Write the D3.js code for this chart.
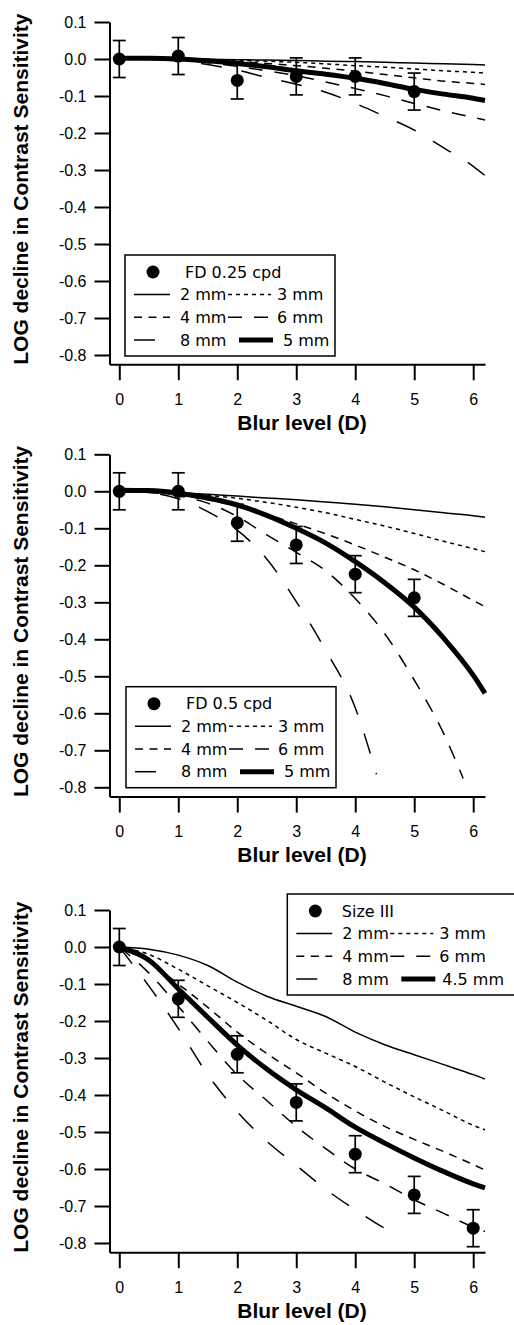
<!DOCTYPE html>
<html>
<head>
<meta charset="utf-8">
<script src="https://cdn.jsdelivr.net/npm/d3@7"></script>
<style>
  body { margin: 0; background: #fff; }
  svg { display: block; }
</style>
</head>
<body>
<svg id="chart" width="514" height="1325"></svg>
<script>
// ---- data ----
const blurGrid = [0, 0.5, 1, 1.5, 2, 2.5, 3, 3.5, 4, 4.5, 5, 5.5, 6, 6.2];
const xTickValues = [0, 1, 2, 3, 4, 5, 6];
const yTickValues = [0.1, 0, -0.1, -0.2, -0.3, -0.4, -0.5, -0.6, -0.7, -0.8];

// FD 0.25 cpd
const fd025Blur = [0, 1, 2, 3, 4, 5];
const fd025Measured = [0, 0.008, -0.058, -0.047, -0.047, -0.088];
const fd025Error = [0.05, 0.05, 0.05, 0.05, 0.05, 0.05];
const fd025_2mm = [0, 0, 0, -0.001, -0.002, -0.003, -0.004, -0.006, -0.007, -0.009, -0.011, -0.013, -0.015, -0.016];
const fd025_3mm = [0, 0, -0.001, -0.002, -0.004, -0.006, -0.009, -0.013, -0.018, -0.022, -0.027, -0.032, -0.036, -0.038];
const fd025_4mm = [0, 0, -0.001, -0.003, -0.007, -0.012, -0.018, -0.025, -0.033, -0.042, -0.051, -0.06, -0.066, -0.069];
const fd025_6mm = [0, 0, -0.003, -0.01, -0.02, -0.032, -0.045, -0.062, -0.08, -0.099, -0.12, -0.14, -0.158, -0.165];
const fd025_8mm = [0, -0.001, -0.005, -0.015, -0.03, -0.05, -0.068, -0.09, -0.12, -0.155, -0.192, -0.24, -0.29, -0.315];
const fd025_5mm = [0.002, 0.002, 0, -0.005, -0.012, -0.021, -0.032, -0.041, -0.052, -0.066, -0.082, -0.095, -0.106, -0.112];

// FD 0.5 cpd
const fd05Blur = [0, 1, 2, 3, 4, 5];
const fd05Measured = [0, 0, -0.085, -0.145, -0.224, -0.288];
const fd05Error = [0.05, 0.05, 0.05, 0.05, 0.05, 0.05];
const fd05_2mm = [0, -0.001, -0.004, -0.008, -0.013, -0.018, -0.023, -0.029, -0.035, -0.042, -0.05, -0.058, -0.066, -0.07];
const fd05_3mm = [0, -0.001, -0.005, -0.011, -0.019, -0.03, -0.043, -0.058, -0.076, -0.094, -0.114, -0.135, -0.155, -0.163];
const fd05_4mm = [0, -0.002, -0.01, -0.023, -0.04, -0.062, -0.088, -0.115, -0.145, -0.178, -0.212, -0.252, -0.295, -0.312];
const fd05_6mmBlur = [0, 0.5, 1, 1.5, 2, 2.5, 3, 3.5, 4, 4.5, 5, 5.5, 5.83];
const fd05_6mm = [0, -0.003, -0.012, -0.032, -0.068, -0.118, -0.165, -0.215, -0.29, -0.385, -0.51, -0.655, -0.776];
const fd05_8mmBlur = [0, 0.5, 1, 1.5, 2, 2.5, 3, 3.5, 4, 4.36];
const fd05_8mm = [0, -0.004, -0.02, -0.055, -0.105, -0.183, -0.298, -0.43, -0.585, -0.765];
const fd05_5mm = [0.003, 0.002, -0.005, -0.018, -0.037, -0.065, -0.1, -0.14, -0.19, -0.247, -0.313, -0.397, -0.497, -0.546];

// Size III
const size3Blur = [0, 1, 2, 3, 4, 5, 6];
const size3Measured = [0, -0.14, -0.29, -0.42, -0.56, -0.67, -0.76];
const size3Error = [0.05, 0.05, 0.05, 0.05, 0.05, 0.05, 0.05];
const size3_2mm = [0, -0.006, -0.022, -0.05, -0.095, -0.133, -0.16, -0.188, -0.23, -0.264, -0.291, -0.318, -0.345, -0.357];
const size3_3mm = [0, -0.02, -0.06, -0.105, -0.15, -0.198, -0.25, -0.287, -0.323, -0.365, -0.405, -0.443, -0.482, -0.494];
const size3_4mm = [0, -0.04, -0.1, -0.163, -0.23, -0.288, -0.34, -0.395, -0.443, -0.485, -0.52, -0.553, -0.588, -0.603];
const size3_6mm = [0, -0.07, -0.16, -0.255, -0.345, -0.415, -0.485, -0.545, -0.6, -0.64, -0.683, -0.72, -0.757, -0.769];
const size3_8mmBlur = [0, 0.5, 1, 1.5, 2, 2.5, 3, 3.5, 4, 4.5, 4.75];
const size3_8mm = [0, -0.105, -0.22, -0.345, -0.445, -0.525, -0.59, -0.655, -0.71, -0.76, -0.78];
const size3_45mm = [0, -0.035, -0.113, -0.19, -0.265, -0.33, -0.386, -0.435, -0.487, -0.53, -0.57, -0.607, -0.64, -0.651];

// ---- line styles ----
const styles = {
    solid: { width: 1.5, dash: null },
    dotted: { width: 1.5, dash: "4,4" },
    dash: { width: 1.5, dash: "8,6.5" },
    longDash: { width: 1.5, dash: "14,12" },
    longerDash: { width: 1.5, dash: "21,20" },
    thick: { width: 5, dash: null }
};

function zip(xs, ys) {
    return xs.map((v, i) => [v, ys[i]]);
}

const panels = [
    {
        top: 22, title: "FD 0.25 cpd",
        legend: { x: 125, dy: 233, w: 210, titleX: 60, lastX: 158 },
        thickLabel: "5 mm",
        blur: fd025Blur, measured: fd025Measured, error: fd025Error,
        curves: {
            "2 mm": zip(blurGrid, fd025_2mm), "3 mm": zip(blurGrid, fd025_3mm),
            "4 mm": zip(blurGrid, fd025_4mm), "6 mm": zip(blurGrid, fd025_6mm),
            "8 mm": zip(blurGrid, fd025_8mm), "thick": zip(blurGrid, fd025_5mm)
        }
    },
    {
        top: 454.3, title: "FD 0.5 cpd",
        legend: { x: 126, dy: 232.4, w: 210, titleX: 60, lastX: 158 },
        thickLabel: "5 mm",
        blur: fd05Blur, measured: fd05Measured, error: fd05Error,
        curves: {
            "2 mm": zip(blurGrid, fd05_2mm), "3 mm": zip(blurGrid, fd05_3mm),
            "4 mm": zip(blurGrid, fd05_4mm), "6 mm": zip(fd05_6mmBlur, fd05_6mm),
            "8 mm": zip(fd05_8mmBlur, fd05_8mm), "thick": zip(blurGrid, fd05_5mm)
        }
    },
    {
        top: 910, title: "Size III",
        legend: { x: 287.3, dy: -16, w: 232, titleX: 54.5, lastX: 155 },
        thickLabel: "4.5 mm",
        blur: size3Blur, measured: size3Measured, error: size3Error,
        curves: {
            "2 mm": zip(blurGrid, size3_2mm), "3 mm": zip(blurGrid, size3_3mm),
            "4 mm": zip(blurGrid, size3_4mm), "6 mm": zip(blurGrid, size3_6mm),
            "8 mm": zip(size3_8mmBlur, size3_8mm), "thick": zip(blurGrid, size3_45mm)
        }
    }
];

const curveStyle = {
    "2 mm": styles.solid, "3 mm": styles.dotted, "4 mm": styles.dash,
    "6 mm": styles.longDash, "8 mm": styles.longerDash, "thick": styles.thick
};

// ---- drawing ----
const svg = d3.select("#chart");
const plotLeft = 109.5, plotRight = 485, plotHeight = 342.25;
const tickFont = "'Liberation Sans', Arial, sans-serif";
const legendFont = "'DejaVu Sans', Verdana, sans-serif";

const x = d3.scaleLinear().domain([-0.166, 6.2]).range([plotLeft, plotRight]);

function styleLine(sel, st) {
    sel.attr("fill", "none")
        .attr("stroke", "#000")
        .attr("stroke-width", st.width)
        .attr("stroke-dasharray", st.dash);
}

function drawPanel(p) {
    const y = d3.scaleLinear().domain([-0.825, 0.1]).range([p.top + plotHeight, p.top]);
    const g = svg.append("g");

    // axes
    const yAxis = g.append("g")
        .attr("transform", `translate(${plotLeft},0)`)
        .call(d3.axisLeft(y).tickValues(yTickValues).tickSize(15).tickSizeOuter(0)
            .tickPadding(8).tickFormat(d => d.toFixed(1)));
    const xAxis = g.append("g")
        .attr("transform", `translate(0,${p.top + plotHeight})`)
        .call(d3.axisBottom(x).tickValues(xTickValues).tickSize(16).tickSizeOuter(0)
            .tickPadding(13).tickFormat(d3.format("d")));
    [yAxis, xAxis].forEach(a => {
        a.select(".domain").attr("stroke-width", 2);
        a.selectAll(".tick line").attr("stroke-width", 2);
        a.selectAll(".tick text")
            .attr("font-family", tickFont)
            .attr("font-size", 16)
            .attr("fill", "#000");
    });

    g.append("text")
        .attr("x", 302).attr("y", p.top + plotHeight + 65.5)
        .attr("text-anchor", "middle")
        .attr("font-family", tickFont).attr("font-weight", "bold").attr("font-size", 21)
        .text("Blur level (D)");

    g.append("text")
        .attr("transform", `translate(28,${p.top + plotHeight / 2 - 4}) rotate(-90)`)
        .attr("text-anchor", "middle")
        .attr("font-family", tickFont).attr("font-weight", "bold").attr("font-size", 21)
        .text("LOG decline in Contrast Sensitivity");

    // model curves
    const line = d3.line().x(d => x(d[0])).y(d => y(d[1])).curve(d3.curveMonotoneX);
    for (const key of ["2 mm", "3 mm", "4 mm", "6 mm", "8 mm", "thick"]) {
        g.append("path")
            .attr("d", line(p.curves[key]))
            .call(styleLine, curveStyle[key]);
    }

    // measured points with error bars
    const pts = p.blur.map((b, i) => ({ b, v: p.measured[i], e: p.error[i] }));
    const eb = g.append("g").attr("stroke", "#000").attr("stroke-width", 1.7);
    eb.selectAll("line.v").data(pts).join("line")
        .attr("x1", d => x(d.b)).attr("x2", d => x(d.b))
        .attr("y1", d => y(d.v + d.e)).attr("y2", d => y(d.v - d.e));
    eb.selectAll("line.t").data(pts.flatMap(d => [d.v + d.e, d.v - d.e].map(v => ({ b: d.b, v }))))
        .join("line")
        .attr("x1", d => x(d.b) - 6.5).attr("x2", d => x(d.b) + 6.5)
        .attr("y1", d => y(d.v)).attr("y2", d => y(d.v));
    g.selectAll("circle.pt").data(pts).join("circle")
        .attr("cx", d => x(d.b)).attr("cy", d => y(d.v)).attr("r", 6.5).attr("fill", "#000");

    // legend
    const L = p.legend;
    const lg = g.append("g").attr("transform", `translate(${L.x},${p.top + L.dy})`);
    lg.append("rect")
        .attr("width", L.w).attr("height", 101)
        .attr("fill", "#fff").attr("stroke", "#000").attr("stroke-width", 1.5);
    const rowY = [17, 39.5, 62.2, 85];
    lg.append("circle").attr("cx", 28).attr("cy", rowY[0]).attr("r", 6.5).attr("fill", "#000");
    const txt = (tx, ty, s) => lg.append("text")
        .attr("x", tx).attr("y", ty + 5.8)
        .attr("font-family", legendFont).attr("font-size", 16).text(s);
    txt(L.titleX, rowY[0], p.title);

    const rows = [["2 mm", "3 mm"], ["4 mm", "6 mm"], ["8 mm", "thick"]];
    rows.forEach((pair, r) => {
        const ry = rowY[r + 1];
        lg.append("line").attr("x1", 9).attr("x2", 45).attr("y1", ry).attr("y2", ry)
            .call(styleLine, curveStyle[pair[0]]);
        txt(55, ry, pair[0]);
        const isThick = pair[1] === "thick";
        lg.append("line").attr("x1", isThick ? 114 : 103).attr("x2", isThick ? 148 : 146)
            .attr("y1", ry).attr("y2", ry)
            .call(styleLine, curveStyle[pair[1]]);
        txt(isThick ? L.lastX : 152, ry, isThick ? p.thickLabel : pair[1]);
    });
}

panels.forEach(drawPanel);
</script>
</body>
</html>
